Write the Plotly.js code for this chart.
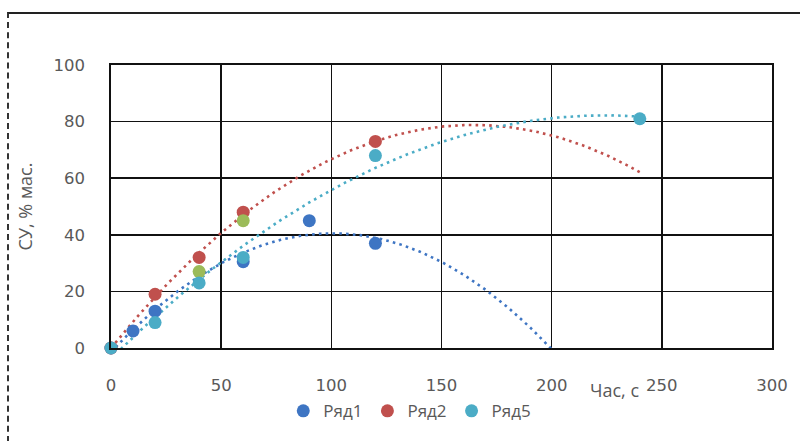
<!DOCTYPE html>
<html>
<head>
<meta charset="utf-8">
<script src="https://cdn.plot.ly/plotly-3.0.1.min.js"></script>
<style>
html,body{margin:0;padding:0;background:#fff;}
#frame{position:absolute;left:7px;top:12px;width:800px;height:440px;border-left:2px dashed #333;border-top:2px solid #222;box-sizing:border-box;}
#chart{position:absolute;left:0;top:0;width:800px;height:441px;}
</style>
</head>
<body>
<div id="chart"></div>
<div id="frame"></div>
<script>
// Data
const r1x = [0, 10, 20, 60, 90, 120];
const r1y = [0, 6, 13, 30.5, 45, 37];
const r2x = [0, 20, 40, 60, 120];
const r2y = [0, 19, 32, 48, 73];
const r3x = [40, 60];
const r3y = [27, 45];
const r5x = [0, 20, 40, 60, 120, 240];
const r5y = [0, 9, 23, 32, 68, 81];
const names = ['Ряд1', 'Ряд2', 'Ряд5'];
const xTicks = [0, 50, 100, 150, 200, 250, 300];
const yTicks = [0, 20, 40, 60, 80, 100];

const cBlue = '#3E75C3', cRed = '#C0504D', cCyan = '#4BACC6', cGreen = '#9BBB59';

// Polynomial least-squares fit (Excel-style polynomial trendline, optional zero intercept)
function polyfit(xs, ys, order, zeroIntercept) {
  const pw = [];
  for (let k = zeroIntercept ? 1 : 0; k <= order; k++) pw.push(k);
  const n = pw.length;
  const A = [];
  for (let i = 0; i < n; i++) {
    const row = [];
    for (let j = 0; j < n; j++) {
      let s = 0; for (let k = 0; k < xs.length; k++) s += Math.pow(xs[k], pw[i] + pw[j]);
      row.push(s);
    }
    let t = 0; for (let k = 0; k < xs.length; k++) t += ys[k] * Math.pow(xs[k], pw[i]);
    row.push(t);
    A.push(row);
  }
  for (let i = 0; i < n; i++) {
    let p = i;
    for (let r = i+1; r < n; r++) if (Math.abs(A[r][i]) > Math.abs(A[p][i])) p = r;
    [A[i], A[p]] = [A[p], A[i]];
    for (let r = 0; r < n; r++) if (r !== i) {
      const f = A[r][i] / A[i][i];
      for (let c = i; c <= n; c++) A[r][c] -= f * A[i][c];
    }
  }
  return A.map((row, i) => ({p: pw[i], c: row[n] / row[i]}));
}
function trend(xs, ys, order, zeroIntercept, x0, x1) {
  const coef = polyfit(xs, ys, order, zeroIntercept);
  const tx = [], ty = [];
  for (let i = 0; i <= 240; i++) {
    const x = x0 + (x1 - x0) * i / 240;
    let y = 0; coef.forEach(t => { y += t.c * Math.pow(x, t.p); });
    tx.push(x); ty.push(y);
  }
  return {tx, ty};
}
const t1 = trend(r1x, r1y, 2, false, 0, 240);
const t2 = trend(r2x, r2y, 2, true, 0, 240);
const t5 = trend(r5x, r5y, 2, false, 0, 240);

const dotStyle = {width: 2.6, dash: '2.6px,4.2px'};
const mSize = 13;
const traces = [
  {x: t1.tx, y: t1.ty, mode: 'lines', line: Object.assign({color: cBlue}, dotStyle), showlegend: false, hoverinfo: 'skip'},
  {x: t2.tx, y: t2.ty, mode: 'lines', line: Object.assign({color: cRed}, dotStyle), showlegend: false, hoverinfo: 'skip'},
  {x: t5.tx, y: t5.ty, mode: 'lines', line: Object.assign({color: cCyan}, dotStyle), showlegend: false, hoverinfo: 'skip'},
  {x: r1x, y: r1y, mode: 'markers', name: names[0], marker: {color: cBlue, size: mSize}, cliponaxis: false},
  {x: r2x, y: r2y, mode: 'markers', name: names[1], marker: {color: cRed, size: mSize}, cliponaxis: false},
  {x: r3x, y: r3y, mode: 'markers', name: 'Ряд3', marker: {color: cGreen, size: mSize}, showlegend: false, cliponaxis: false},
  {x: r5x, y: r5y, mode: 'markers', name: names[2], marker: {color: cCyan, size: mSize}, cliponaxis: false}
];

const tickFont = {family: 'DejaVu Sans', size: 16.5, color: '#595959'};
const layout = {
  width: 800, height: 441,
  margin: {l: 111, r: 28, t: 65, b: 93},
  paper_bgcolor: '#fff', plot_bgcolor: '#fff',
  showlegend: true,
  legend: {orientation: 'h', x: 0.452, xanchor: 'center', y: -0.16, yanchor: 'top',
           font: {family: 'Open Sans', size: 17, color: '#595959'}, itemwidth: 30, tracegroupgap: 0},
  xaxis: {range: [0, 300], tickvals: xTicks, ticktext: xTicks.map(String), tickfont: tickFont,
          showgrid: true, gridcolor: '#111', gridwidth: 1.6, zeroline: false,
          showline: true, linecolor: '#111', linewidth: 1.6, mirror: true, ticks: '', ticklen: 0,
          ticklabelstandoff: 22,
          title: {text: ''}},
  yaxis: {range: [0, 100], tickvals: yTicks, ticktext: yTicks.map(String), tickfont: tickFont,
          showgrid: true, gridcolor: '#111', gridwidth: 1.6, zeroline: false,
          showline: true, linecolor: '#111', linewidth: 1.6, mirror: true, ticks: '', ticklen: 0,
          ticklabelstandoff: 21,
          title: {text: 'СУ, % мас.', font: {family: 'Open Sans', size: 18, color: '#595959'}, standoff: 16}},
  annotations: [
    {text: 'Час, с', xref: 'paper', yref: 'paper', x: 0.762, y: -0.148, xanchor: 'center', yanchor: 'middle',
     showarrow: false, font: {family: 'Open Sans', size: 18, color: '#595959'}}
  ]
};
Plotly.newPlot('chart', traces, layout, {displayModeBar: false, staticPlot: true});
</script>
</body>
</html>
